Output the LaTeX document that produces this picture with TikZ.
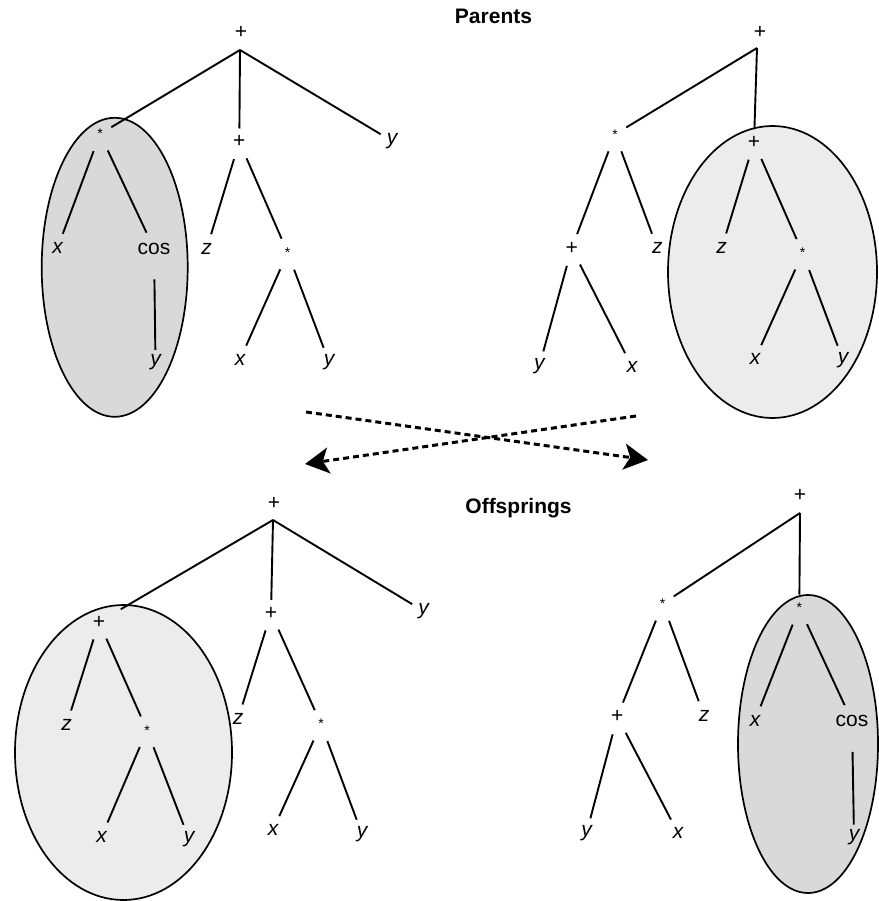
\documentclass[tikz,border=0pt]{standalone}
\usepackage{fontspec}
\setmainfont{Liberation Sans}
\usetikzlibrary{shapes.geometric,arrows.meta}
\definecolor{subdark}{RGB}{217,217,217}
\definecolor{sublight}{RGB}{236,236,236}
\begin{document}
\begin{tikzpicture}[x=1pt,y=-1pt,
  sym/.style={circle,inner sep=0pt,minimum size=30pt,font=\fontsize{21}{21}\selectfont},
  var/.style={sym,font=\fontsize{21}{21}\selectfont\itshape},
  op/.style={sym},
  opsmall/.style={sym,font=\fontsize{14}{14}\selectfont},
  link/.style={line width=1.9pt,shorten <=3pt},
  forklink/.style={line width=1.9pt,shorten >=-2pt},
  subtree/.style={ellipse,draw,line width=1.7pt,inner sep=0pt},
  heading/.style={anchor=base,font=\fontsize{21}{21}\selectfont\bfseries},
  crossover/.style={line width=3pt,dash pattern=on 6pt off 4pt,
    -{Stealth[length=24pt,width=26pt,inset=6pt]}}
]
\useasboundingbox (0,0) rectangle (878,901);

% exchanged subtrees
\node[subtree,fill=subdark,minimum width=146pt,minimum height=299pt] (p1sub) at (114.7,267.3) {};
\node[subtree,fill=sublight,minimum width=209pt,minimum height=292pt] (p2sub) at (772.5,272) {};
\node[subtree,fill=sublight,minimum width=217pt,minimum height=295pt] (o1sub) at (123.5,752.5) {};
\node[subtree,fill=subdark,minimum width=140pt,minimum height=298pt] (o2sub) at (808,744) {};

% headings
\node[heading] (parents) at (493.5,24) {Parents};
\node[heading] (offspring) at (518.5,513) {Offsprings};

% first parent
\node[op] (p1r) at (241,32.5) {+};
\coordinate (p1f) at (240,50);
\node[opsmall] (p1a) at (100,134) {*};
\node[op] (p1b) at (239.3,141.7) {+};
\node[var] (p1c) at (392,141) {y};
\node[var] (p1aa) at (57.5,248) {x};
\node[sym] (p1ab) at (154,248.5) {cos};
\node[var] (p1aba) at (155.5,362) {y};
\node[var] (p1ba) at (206.7,248.8) {z};
\node[opsmall] (p1bb) at (287.7,252.7) {*};
\node[var] (p1bba) at (240,359.5) {x};
\node[var] (p1bbb) at (329,362) {y};

% second parent
\node[op] (p2r) at (760,32.3) {+};
\coordinate (p2f) at (757,48);
\node[opsmall] (p2a) at (615,134.3) {*};
\node[op] (p2b) at (754,142.3) {+};
\node[op] (p2aa) at (571.7,248.3) {+};
\node[var] (p2ab) at (657.3,248) {z};
\node[var] (p2aaa) at (539.3,366) {y};
\node[var] (p2aab) at (632,366.7) {x};
\node[var] (p2ba) at (721.7,248) {z};
\node[opsmall] (p2bb) at (802.7,253) {*};
\node[var] (p2bba) at (755,359) {x};
\node[var] (p2bbb) at (843,360) {y};

% first offspring
\node[op] (o1r) at (274,503) {+};
\coordinate (o1f) at (273,520);
\node[op] (o1a) at (99,622) {+};
\node[op] (o1b) at (271,613) {+};
\node[var] (o1c) at (423.5,611) {y};
\node[var] (o1aa) at (66.5,725) {z};
\node[opsmall] (o1ab) at (147,730.3) {*};
\node[var] (o1aba) at (101.5,836.5) {x};
\node[var] (o1abb) at (189,839) {y};
\node[var] (o1ba) at (238,719) {z};
\node[opsmall] (o1bb) at (321,724) {*};
\node[var] (o1bba) at (273,830) {x};
\node[var] (o1bbb) at (362,834) {y};

% second offspring
\node[op] (o2r) at (800,495) {+};
\coordinate (o2f) at (800,513);
\node[opsmall] (o2a) at (662.7,603.7) {*};
\node[opsmall] (o2b) at (799.3,607.7) {*};
\node[op] (o2aa) at (617.3,716.7) {+};
\node[var] (o2ab) at (704,715.5) {z};
\node[var] (o2aaa) at (586.5,833) {y};
\node[var] (o2aab) at (678,833) {x};
\node[var] (o2ba) at (755,720.5) {x};
\node[sym] (o2bb) at (852,721) {cos};
\node[var] (o2bba) at (854,836.7) {y};

% branches of the first parent
\draw[forklink] (p1f) -- (p1a);
\draw[forklink] (p1f) -- (p1b);
\draw[forklink] (p1f) -- (p1c);
\draw[link] (p1a) -- (p1aa);
\draw[link] (p1a) -- (p1ab);
\draw[link,shorten <=13.5pt,shorten >=-3pt] (p1ab) -- (p1aba);
\draw[link] (p1b) -- (p1ba);
\draw[link] (p1b) -- (p1bb);
\draw[link] (p1bb) -- (p1bba);
\draw[link] (p1bb) -- (p1bbb);

% branches of the second parent
\draw[forklink] (p2f) -- (p2a);
\draw[forklink] (p2f) -- (p2b);
\draw[link] (p2a) -- (p2aa);
\draw[link] (p2a) -- (p2ab);
\draw[link] (p2aa) -- (p2aaa);
\draw[link] (p2aa) -- (p2aab);
\draw[link] (p2b) -- (p2ba);
\draw[link] (p2b) -- (p2bb);
\draw[link] (p2bb) -- (p2bba);
\draw[link] (p2bb) -- (p2bbb);

% branches of the first offspring
\draw[forklink,shorten >=10pt] (o1f) -- (o1a);
\draw[forklink] (o1f) -- (o1b);
\draw[forklink] (o1f) -- (o1c);
\draw[link] (o1a) -- (o1aa);
\draw[link] (o1a) -- (o1ab);
\draw[link] (o1ab) -- (o1aba);
\draw[link] (o1ab) -- (o1abb);
\draw[link] (o1b) -- (o1ba);
\draw[link] (o1b) -- (o1bb);
\draw[link] (o1bb) -- (o1bba);
\draw[link] (o1bb) -- (o1bbb);

% branches of the second offspring
\draw[forklink] (o2f) -- (o2a);
\draw[forklink] (o2f) -- (o2b);
\draw[link] (o2a) -- (o2aa);
\draw[link] (o2a) -- (o2ab);
\draw[link] (o2aa) -- (o2aaa);
\draw[link] (o2aa) -- (o2aab);
\draw[link] (o2b) -- (o2ba);
\draw[link] (o2b) -- (o2bb);
\draw[link,shorten <=13.5pt,shorten >=-3pt] (o2bb) -- (o2bba);

% crossover arrows
\coordinate (xa) at (306,412);
\coordinate (xb) at (648,460);
\coordinate (ya) at (636,416);
\coordinate (yb) at (305,464);
\draw[crossover] (xa) -- (xb);
\draw[crossover] (ya) -- (yb);
\end{tikzpicture}
\end{document}
